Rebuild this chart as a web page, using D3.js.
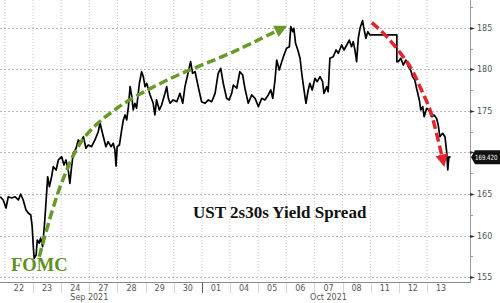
<!DOCTYPE html>
<html>
<head>
<meta charset="utf-8">
<script src="https://cdn.jsdelivr.net/npm/d3@7/dist/d3.min.js"></script>
<style>
  body { margin: 0; background: #fff; }
  svg { display: block; }
  .axis-text { font-family: "DejaVu Sans", Tahoma, sans-serif; font-size: 8px; fill: #555; }
</style>
</head>
<body>
<svg id="chart" width="500" height="303"></svg>
<script>
// trading days along the bottom axis
const dayLabels = ["22", "23", "24", "27", "28", "29", "30", "01", "04", "05", "06", "07", "08", "11", "12", "13"];
const monthLabels = [{ name: "Sep 2021", at: 3 }, { name: "Oct 2021", at: 11.5 }];
const yTicks = [155, 160, 165, 170, 175, 180, 185];
const lastValue = 169.42;

// [trading-day index (fractional), spread in bp]
const spread = [
  [-0.17, 164.67], [-0.06, 164.28], [0.04, 163.31], [0.12, 164.67], [0.24, 164.52], [0.36, 164.67],
  [0.48, 164.28], [0.56, 165.0], [0.65, 164.28], [0.75, 163.07], [0.83, 162.71], [0.92, 162.47],
  [0.97, 161.06], [1.01, 158.65], [1.04, 157.25], [1.11, 157.65], [1.15, 159.46], [1.22, 159.1],
  [1.27, 159.7], [1.34, 158.65], [1.40, 161.06], [1.46, 163.92], [1.52, 167.08], [1.58, 165.88],
  [1.66, 167.08], [1.72, 168.29], [1.82, 167.89], [1.90, 169.1], [2.02, 169.49], [2.10, 168.49],
  [2.17, 169.1], [2.25, 167.89], [2.31, 166.29], [2.37, 168.29], [2.43, 169.9], [2.53, 170.51],
  [2.61, 171.51], [2.69, 171.11], [2.79, 171.9], [2.88, 170.51], [2.96, 170.9], [3.08, 170.7],
  [3.20, 171.51], [3.32, 172.51], [3.38, 173.59], [3.44, 172.71], [3.50, 171.9], [3.59, 170.7],
  [3.67, 171.3], [3.77, 170.7], [3.85, 171.11], [3.91, 170.3], [3.95, 168.37], [3.99, 170.7],
  [4.07, 170.9], [4.15, 172.71], [4.21, 173.92], [4.27, 174.52], [4.33, 173.92], [4.39, 175.52],
  [4.45, 177.93], [4.51, 176.72], [4.56, 175.12], [4.62, 175.93], [4.68, 175.33], [4.78, 178.34],
  [4.86, 179.73], [4.92, 179.13], [4.98, 177.93], [5.04, 178.34], [5.16, 176.93], [5.27, 175.93],
  [5.33, 174.52], [5.39, 176.33], [5.49, 175.12], [5.57, 175.72], [5.69, 177.13], [5.75, 177.93],
  [5.81, 176.53], [5.87, 175.93], [5.98, 176.33], [6.11, 176.12], [6.22, 177.13], [6.32, 175.93],
  [6.40, 177.93], [6.52, 179.73], [6.60, 180.94], [6.67, 179.54], [6.76, 179.73], [6.87, 177.93],
  [6.99, 176.12], [7.11, 175.93], [7.23, 176.33], [7.35, 176.12], [7.47, 177.13], [7.58, 179.54],
  [7.67, 180.14], [7.76, 178.34], [7.88, 176.53], [7.97, 176.33], [8.06, 177.13], [8.12, 178.13],
  [8.24, 177.74], [8.35, 179.73], [8.45, 179.34], [8.53, 177.74], [8.65, 175.93], [8.77, 176.93],
  [8.89, 176.53], [9.01, 175.52], [9.13, 176.53], [9.24, 176.33], [9.36, 176.93], [9.45, 177.53],
  [9.52, 176.53], [9.60, 178.73], [9.66, 181.14], [9.75, 179.94], [9.84, 180.94], [9.92, 181.75],
  [10.01, 182.55], [10.11, 182.75], [10.16, 185.16], [10.23, 184.55], [10.27, 184.96], [10.33, 183.16],
  [10.41, 182.35], [10.49, 181.35], [10.55, 179.54], [10.63, 177.53], [10.70, 175.93], [10.78, 177.53],
  [10.84, 178.34], [10.92, 177.53], [11.02, 178.94], [11.10, 178.53], [11.20, 179.13], [11.29, 178.53],
  [11.34, 177.13], [11.44, 177.93], [11.49, 177.33], [11.55, 181.35], [11.67, 181.54], [11.77, 182.35],
  [11.85, 181.95], [11.97, 182.95], [12.05, 182.35], [12.15, 182.95], [12.24, 183.55], [12.32, 182.75],
  [12.38, 183.35], [12.44, 182.35], [12.50, 180.94], [12.56, 183.76], [12.62, 184.96], [12.71, 185.88],
  [12.77, 184.76], [12.83, 183.76], [12.90, 184.55], [12.97, 184.16], [13.93, 184.16], [13.93, 180.94],
  [13.98, 180.94], [14.07, 181.35], [14.16, 180.54], [14.25, 181.14], [14.34, 180.34], [14.42, 179.94],
  [14.49, 179.13], [14.57, 178.73], [14.63, 177.74], [14.73, 176.33], [14.78, 175.12], [14.85, 175.52],
  [14.90, 174.31], [14.99, 175.33], [15.07, 175.12], [15.17, 174.31], [15.25, 174.52], [15.34, 174.12],
  [15.40, 173.31], [15.46, 171.9], [15.56, 172.31], [15.64, 171.9], [15.70, 170.1], [15.74, 167.89],
  [15.78, 169.49], [15.84, 169.42]
];

// hand-drawn annotation arrows, in the same [day, bp] space
const riseArrow = [[1.22, 157.45], [2.0, 166.2], [2.8, 171.7], [3.97, 175.3], [5.75, 178.7], [8.1, 182.1], [9.75, 184.8]];
const fallArrow = [[13.04, 185.64], [13.57, 183.95], [14.4, 180.34], [14.75, 177.93], [15.11, 175.12], [15.34, 172.31], [15.55, 169.3]];

const width = 500, height = 303;
const plot = { left: 0, right: 470, top: 0, bottom: 282 };

const svg = d3.select("#chart");

const x = d3.scaleLinear().domain([-0.174, 16.53]).range([plot.left, plot.right]);
const y = d3.scaleLinear().domain([154.4, 188.37]).range([plot.bottom, plot.top]);

const defs = svg.append("defs");
defs.append("clipPath").attr("id", "plot-clip")
  .append("rect")
  .attr("x", plot.left).attr("y", plot.top)
  .attr("width", plot.right - plot.left).attr("height", plot.bottom - plot.top);

const addHead = (id, color) => {
  defs.append("marker")
    .attr("id", id)
    .attr("viewBox", "0 0 10 10")
    .attr("refX", 3).attr("refY", 5)
    .attr("markerWidth", 3.6).attr("markerHeight", 3.6)
    .attr("markerUnits", "strokeWidth")
    .attr("orient", "auto")
    .append("path")
    .attr("d", "M0,0 L10,5 L0,10 Z")
    .attr("fill", color);
};
addHead("head-green", "#679a26");
addHead("head-red", "#e3242f");

// grid
const dayBounds = d3.range(0, dayLabels.length);
svg.append("g")
  .selectAll("line")
  .data(dayBounds)
  .join("line")
  .attr("x1", d => x(d)).attr("x2", d => x(d))
  .attr("y1", plot.top).attr("y2", plot.bottom)
  .attr("stroke", "#c4c4c4")
  .attr("stroke-width", 1)
  .attr("stroke-dasharray", "1,2");

svg.append("g")
  .selectAll("line")
  .data(yTicks)
  .join("line")
  .attr("x1", plot.left).attr("x2", plot.right)
  .attr("y1", d => Math.round(y(d)) + 0.5).attr("y2", d => Math.round(y(d)) + 0.5)
  .attr("stroke", "#b8b8b8")
  .attr("stroke-width", 1)
  .attr("stroke-dasharray", "2,2");

// bottom axis band
const xAxis = svg.append("g");
xAxis.selectAll("line.sep")
  .data(dayBounds.slice(1))
  .join("line")
  .attr("class", "sep")
  .attr("x1", d => Math.round(x(d)) + 0.5).attr("x2", d => Math.round(x(d)) + 0.5)
  .attr("y1", plot.bottom).attr("y2", plot.bottom + 11)
  .attr("stroke", d => d === 7 ? "#555" : "#d6d6d6");

xAxis.selectAll("text.day")
  .data(dayLabels)
  .join("text")
  .attr("class", "axis-text day")
  .attr("x", (d, i) => x(i + 0.5))
  .attr("y", plot.bottom + 9)
  .attr("text-anchor", "middle")
  .text(d => d);

xAxis.selectAll("text.month")
  .data(monthLabels)
  .join("text")
  .attr("class", "axis-text month")
  .attr("x", d => x(d.at))
  .attr("y", plot.bottom + 18)
  .attr("text-anchor", "middle")
  .text(d => d.name);

// frame
svg.append("line")
  .attr("x1", plot.left).attr("x2", plot.right + 0.5)
  .attr("y1", plot.bottom + 0.5).attr("y2", plot.bottom + 0.5)
  .attr("stroke", "#888");
svg.append("line")
  .attr("x1", plot.right + 0.5).attr("x2", plot.right + 0.5)
  .attr("y1", plot.top).attr("y2", plot.bottom + 1)
  .attr("stroke", "#999");

// right axis
const yAxis = svg.append("g");
yAxis.selectAll("line.minor")
  .data(d3.range(152.5, 188, 2.5).filter(v => v > 154.4 && v % 5 !== 0))
  .join("line")
  .attr("class", "minor")
  .attr("x1", plot.right).attr("x2", plot.right + 3)
  .attr("y1", d => Math.round(y(d)) + 0.5).attr("y2", d => Math.round(y(d)) + 0.5)
  .attr("stroke", "#999");
yAxis.selectAll("path.major")
  .data(yTicks)
  .join("path")
  .attr("class", "major")
  .attr("d", d => {
    const yy = Math.round(y(d)) + 0.5;
    return `M${plot.right},${yy - 1.5} L${plot.right + 5},${yy} L${plot.right},${yy + 1.5} Z`;
  })
  .attr("fill", "#333");
// the 170 label sits under the last-value tag, so it is not drawn
yAxis.selectAll("text")
  .data(yTicks.filter(d => Math.abs(y(d) - y(lastValue)) > 8))
  .join("text")
  .attr("class", "axis-text")
  .attr("x", plot.right + 7)
  .attr("y", d => y(d) + 3)
  .text(d => d);

// series
const line = d3.line().x(d => x(d[0])).y(d => y(d[1]));
svg.append("path")
  .datum(spread)
  .attr("clip-path", "url(#plot-clip)")
  .attr("d", line)
  .attr("fill", "none")
  .attr("stroke", "#000")
  .attr("stroke-width", 1.7)
  .attr("stroke-linejoin", "round");

// annotation arrows
const curve = d3.line().x(d => x(d[0])).y(d => y(d[1])).curve(d3.curveCatmullRom);
svg.append("path")
  .datum(riseArrow)
  .attr("d", curve)
  .attr("fill", "none")
  .attr("stroke", "#679a26")
  .attr("stroke-width", 3.5)
  .attr("stroke-dasharray", "9,4")
  .attr("marker-end", "url(#head-green)");
svg.append("path")
  .datum(fallArrow)
  .attr("d", curve)
  .attr("fill", "none")
  .attr("stroke", "#e3242f")
  .attr("stroke-width", 3.5)
  .attr("stroke-dasharray", "9,4")
  .attr("marker-end", "url(#head-red)");

// last value tag
const tagY = y(lastValue);
svg.append("path")
  .attr("d", `M${plot.right + 1},${tagY} L${plot.right + 5},${tagY - 7} L${width},${tagY - 7} L${width},${tagY + 7} L${plot.right + 5},${tagY + 7} Z`)
  .attr("fill", "#111");
svg.append("text")
  .attr("x", plot.right + 5)
  .attr("y", tagY + 3)
  .attr("font-family", "'DejaVu Sans', Tahoma, sans-serif")
  .attr("font-size", 7.2)
  .attr("textLength", 22.5)
  .attr("lengthAdjust", "spacingAndGlyphs")
  .attr("fill", "#fff")
  .text(lastValue.toFixed(3));

// captions
svg.append("text")
  .attr("x", 193)
  .attr("y", 218)
  .attr("font-family", "'Liberation Serif', 'Times New Roman', serif")
  .attr("font-size", 17)
  .attr("font-weight", "bold")
  .attr("fill", "#111")
  .text("UST 2s30s Yield Spread");

svg.append("text")
  .attr("x", 11)
  .attr("y", 271)
  .attr("font-family", "'Liberation Serif', 'Times New Roman', serif")
  .attr("font-size", 18.5)
  .attr("font-weight", "bold")
  .attr("fill", "#5e9021")
  .text("FOMC");
</script>
</body>
</html>
